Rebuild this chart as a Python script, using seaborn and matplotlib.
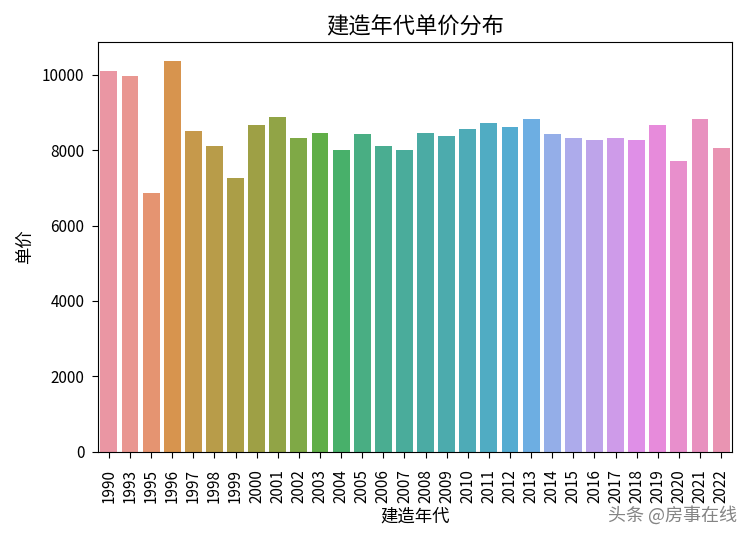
import matplotlib
matplotlib.use("Agg")
import matplotlib.pyplot as plt
import seaborn as sns
import pandas as pd

years = ["1990", "1993", "1995", "1996", "1997", "1998", "1999", "2000", "2001", "2002",
         "2003", "2004", "2005", "2006", "2007", "2008", "2009", "2010", "2011", "2012",
         "2013", "2014", "2015", "2016", "2017", "2018", "2019", "2020", "2021", "2022"]
prices = [10106, 9965, 6870, 10362, 8518, 8122, 7275, 8669, 8871, 8325,
          8466, 8016, 8421, 8118, 8016, 8466, 8368, 8571, 8712, 8616,
          8818, 8421, 8325, 8271, 8325, 8271, 8669, 7716, 8818, 8069]

plt.rcParams['font.family'] = ['Noto Sans CJK SC', 'DejaVu Sans']
plt.rcParams['axes.unicode_minus'] = False

df = pd.DataFrame({"建造年代": years, "单价": prices})

fig = plt.figure(figsize=(7.5, 5.42), dpi=100)
ax = fig.add_axes([0.1311, 0.1666, 0.8445, 0.7565])
sns.barplot(data=df, x="建造年代", y="单价", hue="建造年代", legend=False,
            palette=sns.husl_palette(len(years), l=.7), saturation=0.75, ax=ax)
ax.set_title("建造年代单价分布", fontsize=16)
ax.set_xlabel("建造年代", fontsize=12.5, labelpad=3)
ax.set_ylabel("单价", fontsize=12.5, labelpad=5)
ax.tick_params(axis='x', rotation=90, labelsize=11, length=4.5, pad=8)
ax.tick_params(axis='y', labelsize=11, length=4, pad=6)
fig.text(0.983, 0.05, "头条 @房事在线", ha="right", va="center", fontsize=13,
         color="#6f6f6f", alpha=0.85)
fig.savefig("out.png", dpi=100)
